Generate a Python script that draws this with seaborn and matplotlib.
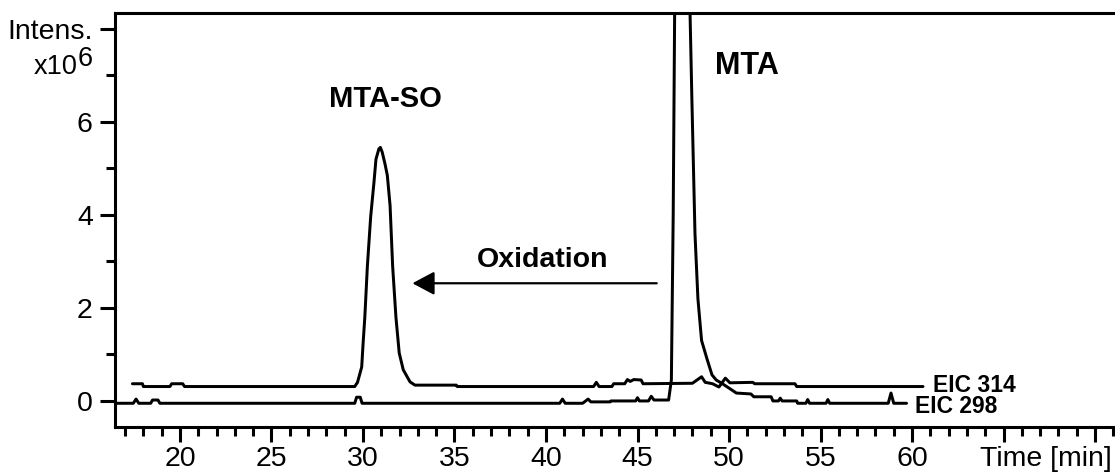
import matplotlib
matplotlib.use("Agg")
import matplotlib.pyplot as plt
import matplotlib.transforms as mtransforms
import numpy as np
import pandas as pd
import seaborn as sns

# EIC 314 trace (retention time in min, intensity in 1e6 counts)
t_314 = [17.4, 17.95, 18.0, 19.45, 19.55, 20.15, 20.25, 29.55, 29.7, 29.93,
         30.0, 30.1, 30.24, 30.42, 30.6, 30.71, 30.87, 30.95, 31.05, 31.2,
         31.33, 31.48, 31.62, 31.8, 31.98, 32.2, 32.57, 32.84, 35.1, 35.15,
         42.6, 42.75, 42.9, 43.6, 43.7, 44.3, 44.45, 44.6, 44.8, 45.2,
         45.3, 48.0, 48.5, 48.7, 49.1, 49.45, 49.8, 50.05, 51.3, 51.4,
         53.6, 53.7, 60.6]
i_314 = [0.37, 0.37, 0.31, 0.31, 0.37, 0.37, 0.31, 0.31, 0.40, 0.73,
         1.2, 1.8, 2.9, 3.96, 4.7, 5.2, 5.42, 5.45, 5.35, 5.1,
         4.85, 4.2, 2.9, 1.8, 1.03, 0.67, 0.41, 0.34, 0.34, 0.31,
         0.31, 0.40, 0.31, 0.31, 0.37, 0.37, 0.46, 0.42, 0.46, 0.45,
         0.37, 0.38, 0.52, 0.40, 0.37, 0.30, 0.49, 0.39, 0.40, 0.37,
         0.37, 0.31, 0.31]

# EIC 298 trace
t_298 = [16.55, 17.45, 17.6, 17.75, 18.4, 18.5, 18.8, 18.9, 29.55, 29.65,
         29.85, 29.95, 40.75, 40.9, 41.05, 42.0, 42.3, 42.45, 43.5, 43.55,
         44.9, 45.0, 45.1, 45.6, 45.75, 45.9, 46.7, 46.85, 46.95, 47.05,
         47.25, 47.45, 47.65, 47.87, 47.97, 48.14, 48.3, 48.5, 48.8, 49.07,
         49.3, 49.6, 50.1, 50.4, 51.2, 51.35, 52.3, 52.4, 52.7, 52.8,
         52.9, 53.7, 53.75, 54.2, 54.3, 54.4, 55.3, 55.4, 55.5, 58.7,
         58.85, 59.0, 59.7]
i_298 = [-0.05, -0.05, 0.04, -0.05, -0.05, 0.02, 0.02, -0.05, -0.05, 0.08,
         0.08, -0.05, -0.05, 0.04, -0.05, -0.05, 0.04, -0.02, -0.02, 0.0,
         0.0, 0.07, 0.0, 0.0, 0.1, 0.02, 0.02, 0.45, 4.0, 9.5,
         14.5, 16.0, 13.5, 8.34, 6.5, 3.6, 2.2, 1.3, 0.9, 0.56,
         0.45, 0.38, 0.25, 0.17, 0.15, 0.09, 0.09, 0.0, 0.0, 0.06,
         0.0, 0.0, -0.05, -0.05, 0.03, -0.05, -0.05, 0.03, -0.05, -0.05,
         0.17, -0.05, -0.05]

trace_names = ["EIC 314", "EIC 298"]
peak_names = ["MTA-SO", "MTA"]
x_major = [20, 25, 30, 35, 40, 45, 50, 55, 60, 65, 70]
x_labels = ["20", "25", "30", "35", "40", "45", "50", "55", "60", "", ""]
y_major = [0, 2, 4, 6, 8]
y_labels = ["0", "2", "4", "6", "Intens."]

df = pd.concat([
    pd.DataFrame({"time": t_314, "intensity": i_314, "trace": trace_names[0]}),
    pd.DataFrame({"time": t_298, "intensity": i_298, "trace": trace_names[1]}),
])

sns.set_style("ticks")
plt.rcParams["font.family"] = ["Liberation Sans", "DejaVu Sans"]

fig = plt.figure(figsize=(11.15, 4.72), dpi=100)
ax = fig.add_axes([115 / 1115, 45 / 472, 1000 / 1115, 414 / 472])

sns.lineplot(data=df, x="time", y="intensity", units="trace", estimator=None,
             sort=False, color="black", lw=2.15, ax=ax, legend=False)

ax.set_xlim(16.45, 71.09)
ax.set_ylim(-0.56, 8.34)
ax.set_xlabel("")
ax.set_ylabel("")

ax.set_xticks(x_major, labels=x_labels)
ax.set_xticks(np.arange(17, 72, 1), minor=True)
ax.set_yticks(y_major, labels=y_labels)
ax.set_yticks([1, 3, 5, 7], minor=True)

tick_fs = 20.5
ax.tick_params(axis="both", which="major", direction="out", length=10.5,
               width=2.2, color="black", labelsize=tick_fs, labelcolor="black")
ax.tick_params(axis="both", which="minor", direction="out", length=6.5,
               width=2.2, color="black")
ax.tick_params(axis="x", which="major", pad=3.0)
ax.tick_params(axis="y", which="major", pad=5.5)

for side in ["left", "top", "bottom"]:
    ax.spines[side].set_linewidth(2.2)
    ax.spines[side].set_color("black")
ax.spines["right"].set_visible(False)

# intensity scale factor under the axis title: "x10" with a raised "6"
ylab = mtransforms.blended_transform_factory(ax.transAxes, ax.transData)
ax.text(-0.037, 7.02, "x10", transform=ylab, ha="right", va="baseline",
        fontsize=19.5, color="black")
ax.text(-0.022, 7.2, "6", transform=ylab, ha="right", va="baseline",
        fontsize=19.5, color="black")

# time axis title placed in the tick label row
xlab = mtransforms.blended_transform_factory(ax.transData, ax.transAxes)
ax.annotate("Time [min]", xy=(67.3, 0), xycoords=xlab,
            xytext=(0, -13.5), textcoords="offset points",
            ha="center", va="top", fontsize=tick_fs, color="black")

# peak names
ax.text(31.2, 6.5, peak_names[0], ha="center", va="center",
        fontsize=21, fontweight="bold", color="black")
ax.text(51.0, 7.2, peak_names[1], ha="center", va="center",
        fontsize=22, fontweight="bold", color="black")

# oxidation arrow from MTA towards MTA-SO
ax.annotate("", xy=(32.7, 2.53), xytext=(46.05, 2.53),
            arrowprops=dict(arrowstyle="-|>,head_length=0.45,head_width=0.24",
                            lw=1.6, color="black", mutation_scale=30,
                            shrinkA=0, shrinkB=0))
ax.text(39.8, 3.03, "Oxidation", ha="center", va="center",
        fontsize=20.5, fontweight="bold", color="black")

# trace labels at the line ends
ax.text(61.15, 0.33, trace_names[0], ha="left", va="center",
        fontsize=16.5, fontweight="bold", color="black")
ax.text(60.15, -0.13, trace_names[1], ha="left", va="center",
        fontsize=16.5, fontweight="bold", color="black")

fig.savefig("out.png", dpi=100, facecolor="white")
